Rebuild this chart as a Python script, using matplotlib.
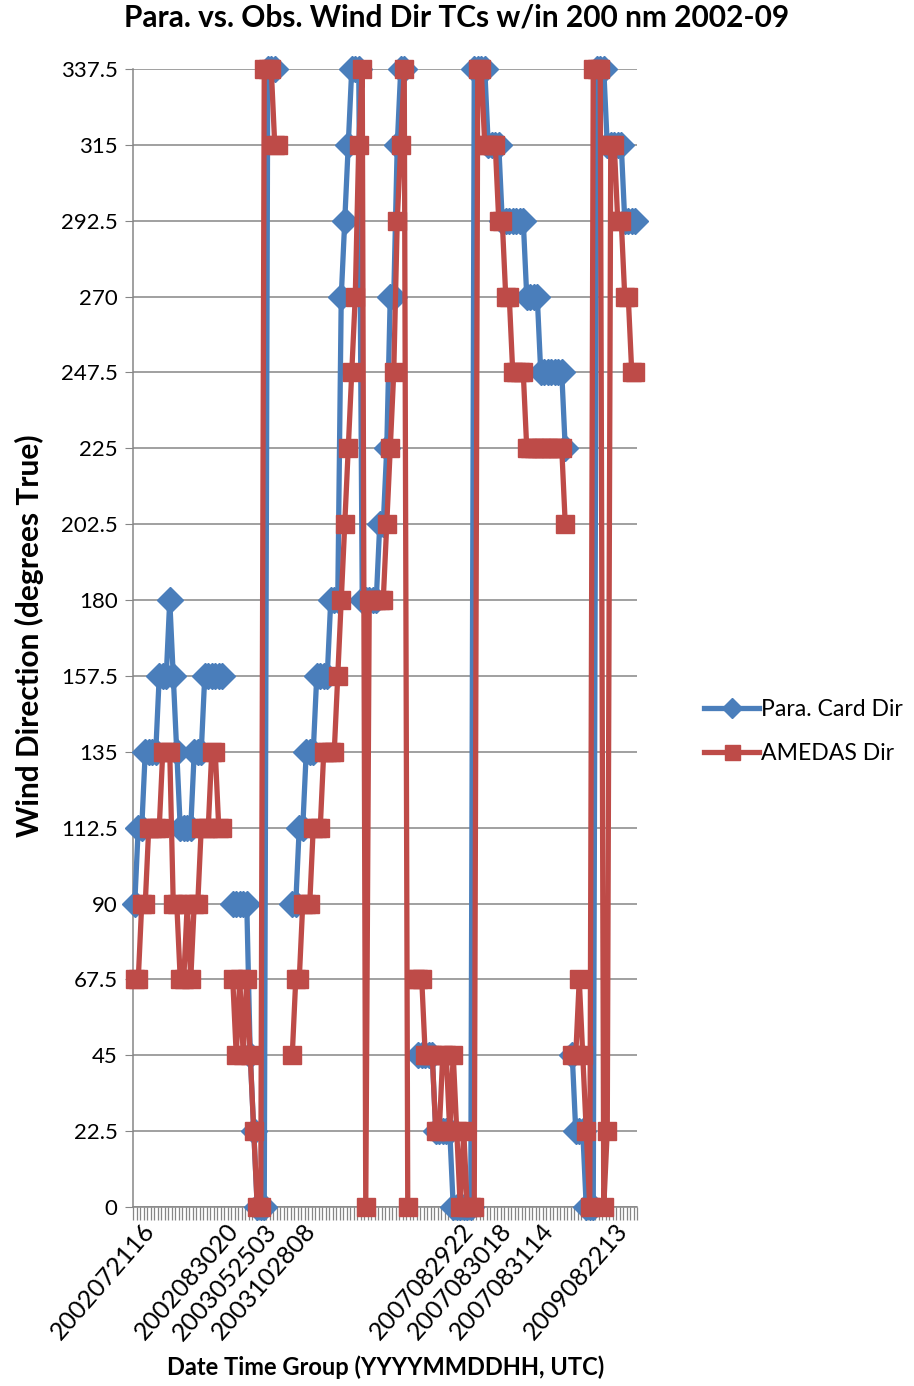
import numpy as np
import matplotlib

matplotlib.use("Agg")
import matplotlib.pyplot as plt

nan = np.nan

# one entry per date-time group (category); nan = gap between storms
para_dir = [
    90, 112.5, 112.5, 135, 135, 135, 135, 157.5, 157.5, 157.5,
    180, 157.5, 135, 112.5, 112.5, 112.5, 112.5, 135, 135, 135,
    157.5, 157.5, 157.5, 157.5, 157.5, 157.5, nan, nan, 90, 90,
    90, 90, 90, 45, 22.5, 0, 0, 0, 337.5, 337.5,
    337.5, nan, nan, nan, nan, 90, 90, 112.5, 112.5, 135,
    135, 135, 157.5, 157.5, 157.5, 157.5, 180, 180, 180, 270,
    292.5, 315, 337.5, 337.5, 337.5, 180, 180, 180, 180, 180,
    202.5, 202.5, 225, 270, 270, 315, 337.5, 337.5, nan, nan,
    nan, 45, 45, 45, 45, 45, 22.5, 22.5, 22.5, 22.5,
    22.5, 0, 0, 0, 0, 0, 0, 337.5, 337.5, 337.5,
    337.5, 315, 315, 315, 315, 292.5, 292.5, 292.5, 292.5, 292.5,
    292.5, 292.5, 270, 270, 270, 270, 247.5, 247.5, 247.5, 247.5,
    247.5, 247.5, 247.5, 225, nan, 45, 22.5, 22.5, 22.5, 0,
    0, 0, 337.5, 337.5, 337.5, 315, 315, 315, 315, 315,
    292.5, 292.5, 292.5, 292.5,
]

amedas_dir = [
    67.5, 67.5, 90, 90, 112.5, 112.5, 112.5, 112.5, 135, 135,
    135, 90, 90, 67.5, 67.5, 90, 67.5, 90, 90, 112.5,
    112.5, 112.5, 135, 135, 112.5, 112.5, nan, nan, 67.5, 45,
    67.5, 45, 67.5, 45, 22.5, 0, 0, 337.5, 337.5, 337.5,
    315, 315, nan, nan, nan, 45, 67.5, 67.5, 90, 90,
    90, 112.5, 112.5, 112.5, 135, 135, 135, 135, 157.5, 180,
    202.5, 225, 247.5, 270, 315, 337.5, 0, 180, 180, 180,
    180, 180, 202.5, 225, 247.5, 292.5, 315, 337.5, 0, nan,
    67.5, 67.5, 67.5, 45, 45, 45, 22.5, 22.5, 45, 45,
    22.5, 45, 22.5, 0, 22.5, 0, 0, 0, 337.5, 337.5,
    315, 315, 315, 315, 292.5, 292.5, 270, 270, 247.5, 247.5,
    247.5, 247.5, 225, 225, 225, 225, 225, 225, 225, 225,
    225, 225, 225, 202.5, nan, 45, 45, 67.5, 45, 22.5,
    0, 337.5, 337.5, 337.5, 0, 22.5, 315, 315, 292.5, 292.5,
    270, 270, 247.5, 247.5,
]

# category positions that carry a visible date label
label_idx = [2, 26, 37, 48, 93, 104, 116, 137]
label_text = [
    "2002072116", "2002083020", "2003052503", "2003102808",
    "2007082922", "2007083018", "2007083114", "2009082213",
]

y_ticks = [0, 22.5, 45, 67.5, 90, 112.5, 135, 157.5, 180, 202.5,
           225, 247.5, 270, 292.5, 315, 337.5]

BLUE = "#4a7ebb"
RED = "#be4b48"
GRID = "#868686"

plt.rcParams["font.family"] = ["Lato", "DejaVu Sans"]

n = len(para_dir)
x = np.arange(n)

fig = plt.figure(figsize=(9.14, 13.86), dpi=100)
ax = fig.add_axes([133 / 914, 1 - 1207 / 1386, 504 / 914, (1207 - 69) / 1386])

ax.plot(x, para_dir, color=BLUE, linewidth=3.8, marker="D",
        markersize=13, label="Para. Card Dir", zorder=3)
ax.plot(x, amedas_dir, color=RED, linewidth=3.8, marker="s",
        markersize=13.5, label="AMEDAS Dir", zorder=4)

ax.set_xlim(-0.5, n - 0.5)
ax.set_ylim(0, 337.5)
ax.set_yticks(y_ticks)
ax.set_yticklabels([f"{v:g}" for v in y_ticks], fontsize=16)
ax.yaxis.grid(True, color=GRID, linewidth=1.1)
ax.set_axisbelow(True)
ax.tick_params(axis="y", length=6, color=GRID, pad=5)

ax.set_xticks(label_idx)
ax.set_xticklabels(label_text, rotation=49, ha="right",
                   rotation_mode="anchor", fontsize=18)
ax.set_xticks(np.arange(-0.5, n, 1), minor=True)
ax.tick_params(axis="x", which="major", length=0, pad=9)
ax.tick_params(axis="x", which="minor", length=9, color=GRID, width=0.9)

for side in ["top", "right"]:
    ax.spines[side].set_visible(False)
for side in ["left", "bottom"]:
    ax.spines[side].set_color(GRID)
    ax.spines[side].set_linewidth(1.1)
for line in ax.lines:
    line.set_clip_on(False)

fig.text(0.5, 1 - 18 / 1386, "Para. vs. Obs. Wind Dir TCs w/in 200 nm 2002-09",
         ha="center", va="center", fontsize=21.5, fontweight="bold")
fig.text(29 / 914, 1 - 636 / 1386, "Wind Direction (degrees True)",
         ha="center", va="center", rotation=90, fontsize=21.5, fontweight="bold")
fig.text(386 / 914, 1 - 1367 / 1386, "Date Time Group (YYYYMMDDHH, UTC)",
         ha="center", va="center", fontsize=17, fontweight="bold")

fig.legend(loc="upper left", bbox_to_anchor=(688 / 914, 1 - 683 / 1386),
           frameon=False, fontsize=16.6, handlelength=2.4, handletextpad=0.05,
           labelspacing=1.0, markerscale=0.8, borderpad=0.2)

fig.savefig("out.png", dpi=100)
